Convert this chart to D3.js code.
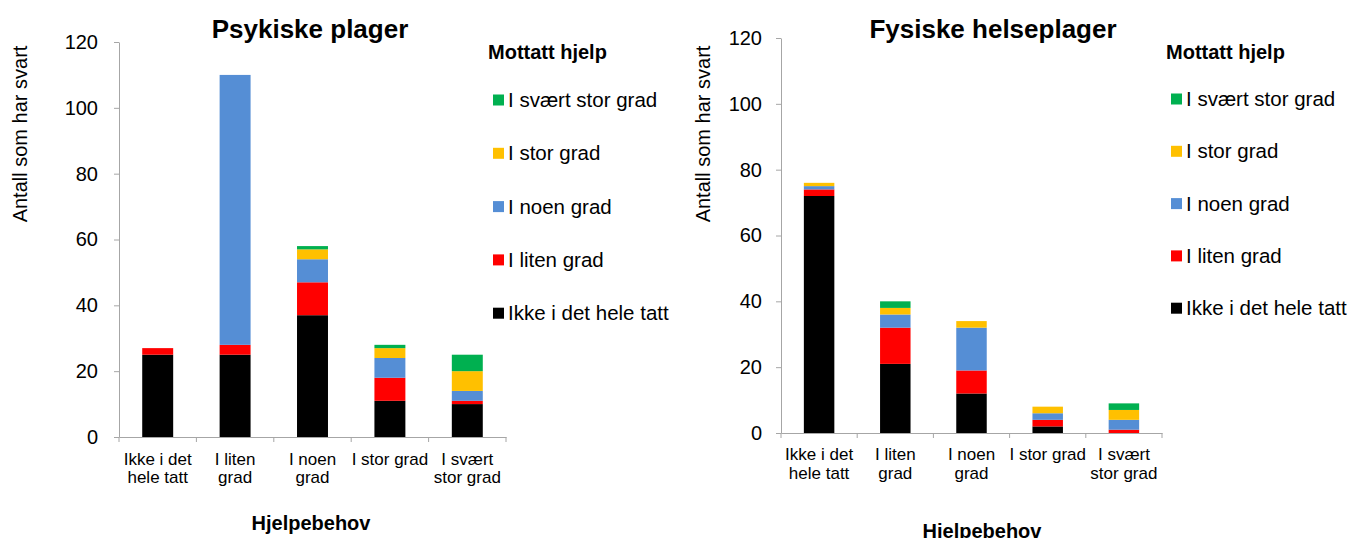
<!DOCTYPE html>
<html>
<head>
<meta charset="utf-8">
<script src="https://cdn.jsdelivr.net/npm/d3@7"></script>
<style>
  body { margin: 0; background: #fff; }
  svg text { font-family: "Liberation Sans", Arial, sans-serif; fill: #000; }
</style>
</head>
<body>
<svg id="chart" width="1351" height="538"></svg>
<script>
// ! Data
var categories = ["Ikke i det hele tatt", "I liten grad", "I noen grad", "I stor grad", "I svært stor grad"];
var categoryLines = [["Ikke i det", "hele tatt"], ["I liten", "grad"], ["I noen", "grad"], ["I stor grad"], ["I svært", "stor grad"]];
var levels = ["Ikke i det hele tatt", "I liten grad", "I noen grad", "I stor grad", "I svært stor grad"];
var levelColors = ["#000000", "#ff0000", "#558ed5", "#ffc000", "#00b050"];
var yTicks = [0, 20, 40, 60, 80, 100, 120];

// Psykiske plager - antall per mottatt hjelp
var psykIkke   = [25, 25, 37, 11, 10];
var psykLiten  = [2, 3, 10, 7, 1];
var psykNoen   = [0, 82, 7, 6, 3];
var psykStor   = [0, 0, 3, 3, 6];
var psykSvaert = [0, 0, 1, 1, 5];

// Fysiske helseplager
var fysIkke   = [72, 21, 12, 2, 0];
var fysLiten  = [2, 11, 7, 2, 1];
var fysNoen   = [1, 4, 13, 2, 3];
var fysStor   = [1, 2, 2, 2, 3];
var fysSvaert = [0, 2, 0, 0, 2];

var svg = d3.select("#chart");
var axisColor = "#a6a6a6";

function buildRows(series) {
  return categories.map(function (c, i) {
    var row = { cat: c };
    levels.forEach(function (l, j) { row[l] = series[j][i]; });
    return row;
  });
}

function drawChart(opt) {
  var rows = buildRows(opt.series);
  var g = svg.append("g");

  var x = d3.scaleBand().domain(categories).range([opt.x0, opt.x1]);
  var y = d3.scaleLinear().domain([0, 120]).range([opt.yBot, opt.yTop]);
  var bw = x.bandwidth();

  // bars
  var stacked = d3.stack().keys(levels)(rows);
  g.selectAll(".layer")
    .data(stacked)
    .enter()
    .append("g")
    .attr("fill", function (d, i) { return levelColors[i]; })
    .selectAll("rect")
    .data(function (d) { return d; })
    .enter()
    .append("rect")
    .attr("x", function (d) { return x(d.data.cat) + bw * 0.3; })
    .attr("width", bw * 0.4)
    .attr("y", function (d) { return y(d[1]); })
    .attr("height", function (d) { return y(d[0]) - y(d[1]); });

  // y axis
  var yAxis = g.append("g")
    .attr("transform", "translate(" + opt.x0 + ",0)")
    .call(d3.axisLeft(y).tickValues(yTicks).tickSize(5).tickSizeOuter(0).tickPadding(opt.tickPad));
  yAxis.select(".domain").attr("stroke", axisColor);
  yAxis.selectAll(".tick line").attr("stroke", axisColor);
  yAxis.selectAll(".tick text").style("font-size", "20px").style("font-family", "Liberation Sans, Arial, sans-serif");

  // x axis
  var xAxis = g.append("g")
    .attr("transform", "translate(0," + opt.yBot + ")")
    .call(d3.axisBottom(x).tickSize(0).tickSizeOuter(0).tickFormat(""));
  xAxis.select(".domain").attr("stroke", axisColor);
  var bounds = categories.map(function (c) { return x(c); }).concat([opt.x1]);
  xAxis.selectAll(".bound")
    .data(bounds)
    .enter()
    .append("line")
    .attr("x1", function (d) { return d; })
    .attr("x2", function (d) { return d; })
    .attr("y1", 0)
    .attr("y2", 5)
    .attr("stroke", axisColor);

  xAxis.selectAll(".tick text").remove();
  xAxis.selectAll(".tick")
    .append("text")
    .attr("text-anchor", "middle")
    .style("font-size", "17px")
    .style("font-family", "Liberation Sans, Arial, sans-serif")
    .attr("fill", "#000")
    .each(function (d, i) {
      var t = d3.select(this);
      categoryLines[i].forEach(function (line, k) {
        t.append("tspan").attr("x", 0).attr("y", opt.xLab1 + k * opt.xLabGap).text(line);
      });
    });

  // titles
  g.append("text")
    .attr("x", opt.titleX)
    .attr("y", 38)
    .attr("text-anchor", "middle")
    .style("font-weight", "bold")
    .style("font-size", "26px")
    .text(opt.title);

  g.append("text")
    .attr("transform", "translate(" + opt.yLabX + "," + 134 + ") rotate(-90)")
    .attr("text-anchor", "middle")
    .style("font-size", "20px")
    .text("Antall som har svart");

  g.append("text")
    .attr("x", opt.xTitleX)
    .attr("y", opt.xTitleY)
    .attr("text-anchor", "middle")
    .style("font-weight", "bold")
    .style("font-size", "20px")
    .text("Hjelpebehov");

  // legend
  g.append("text")
    .attr("x", opt.legX - 5)
    .attr("y", 59)
    .style("font-weight", "bold")
    .style("font-size", "20px")
    .text("Mottatt hjelp");

  var legendOrder = levels.slice().reverse();
  var leg = g.selectAll(".leg")
    .data(legendOrder)
    .enter()
    .append("g")
    .attr("transform", function (d, i) { return "translate(" + opt.legX + "," + (opt.legY + i * opt.legGap) + ")"; });
  leg.append("rect")
    .attr("x", 0)
    .attr("y", -5.5)
    .attr("width", 11)
    .attr("height", 11)
    .attr("fill", function (d) { return levelColors[levels.indexOf(d)]; });
  leg.append("text")
    .attr("x", 15)
    .attr("y", 7)
    .style("font-size", "20.5px")
    .text(function (d) { return d; });
}

drawChart({
  title: "Psykiske plager",
  series: [psykIkke, psykLiten, psykNoen, psykStor, psykSvaert],
  x0: 119, x1: 506, yTop: 42, yBot: 437,
  tickPad: 16,
  xLab1: 28, xLabGap: 18,
  titleX: 310, yLabX: 27,
  xTitleX: 311, xTitleY: 530,
  legX: 493, legY: 100, legGap: 53.3
});

drawChart({
  title: "Fysiske helseplager",
  series: [fysIkke, fysLiten, fysNoen, fysStor, fysSvaert],
  x0: 781, x1: 1162, yTop: 38, yBot: 433,
  tickPad: 14,
  xLab1: 27, xLabGap: 19,
  titleX: 993, yLabX: 710,
  xTitleX: 982, xTitleY: 538,
  legX: 1171, legY: 99, legGap: 52.3
});
</script>
</body>
</html>
